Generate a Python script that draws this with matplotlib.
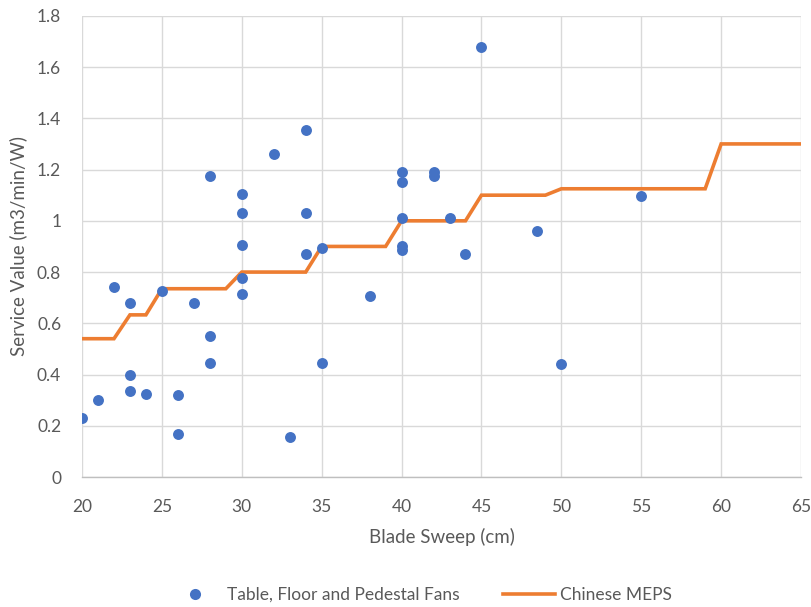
import matplotlib
matplotlib.use("Agg")
import matplotlib.pyplot as plt
from matplotlib.lines import Line2D

plt.rcParams['font.family'] = ['Lato', 'DejaVu Sans']

# Scatter data: Table, Floor and Pedestal Fans
fan_x = [20, 21, 22, 23, 23, 23, 24, 25, 26, 26, 27, 28, 28, 28,
         30, 30, 30, 30, 30, 32, 34, 34, 34, 33, 35, 35, 38,
         40, 40, 40, 40, 40, 42, 42, 43, 44, 45, 48.5, 50, 55]
fan_y = [0.23, 0.30, 0.74, 0.68, 0.40, 0.335, 0.325, 0.725, 0.32, 0.17, 0.68, 0.55, 0.445, 1.175,
         1.105, 1.03, 0.905, 0.775, 0.715, 1.26, 1.355, 1.03, 0.87, 0.155, 0.895, 0.445, 0.705,
         0.90, 0.885, 1.19, 1.15, 1.01, 1.19, 1.173, 1.01, 0.87, 1.68, 0.96, 0.44, 1.095]

# Chinese MEPS line
meps_x = [20, 22, 23, 24, 25, 29, 30, 34, 35, 39, 40, 44, 45, 49, 50, 59, 60, 65]
meps_y = [0.54, 0.54, 0.633, 0.633, 0.735, 0.735, 0.80, 0.80, 0.90, 0.90,
          1.0, 1.0, 1.1, 1.1, 1.125, 1.125, 1.3, 1.3]

x_ticks = [20, 25, 30, 35, 40, 45, 50, 55, 60, 65]
y_ticks = [0, 0.2, 0.4, 0.6, 0.8, 1, 1.2, 1.4, 1.6, 1.8]
y_labels = ['0', '0.2', '0.4', '0.6', '0.8', '1', '1.2', '1.4', '1.6', '1.8']

grey = '#595959'
fig = plt.figure(figsize=(8.12, 6.07), dpi=100)
ax = fig.add_axes([0.101, 0.214, 0.8855, 0.760])

ax.plot(meps_x, meps_y, color='#ED7D31', lw=2.6, zorder=2, solid_joinstyle='miter')
ax.scatter(fan_x, fan_y, s=62, color='#4472C4', zorder=3, linewidths=0)

ax.set_xlim(20, 65)
ax.set_ylim(0, 1.8)
ax.set_xticks(x_ticks)
ax.set_yticks(y_ticks)
ax.set_yticklabels(y_labels)
ax.grid(True, color='#d9d9d9', lw=1.0, zorder=0)
ax.set_axisbelow(True)
for s in ['top', 'right', 'left']:
    ax.spines[s].set_visible(False)
ax.spines['bottom'].set_color('#bfbfbf')
ax.spines['bottom'].set_linewidth(1.0)
ax.tick_params(axis='x', length=0, colors=grey, labelsize=12.5, pad=16)
ax.tick_params(axis='y', length=0, colors=grey, labelsize=12.5, pad=15)

ax.set_xlabel('Blade Sweep (cm)', color=grey, fontsize=13.5, labelpad=9)
ax.set_ylabel('Service Value (m3/min/W)', color=grey, fontsize=13.5, labelpad=7)

handles = [Line2D([0], [0], marker='o', color='none', markerfacecolor='#4472C4',
                  markeredgewidth=0, markersize=8),
           Line2D([0], [0], color='#ED7D31', lw=2.6)]
leg = fig.legend(handles, ['Table, Floor and Pedestal Fans', 'Chinese MEPS'],
                 loc='center', bbox_to_anchor=(0.518, 0.02), ncol=2, frameon=False,
                 fontsize=12.5, handlelength=3.0, columnspacing=2.5, handletextpad=0.3)
for t in leg.get_texts():
    t.set_color(grey)

fig.savefig('out.png', dpi=100)
